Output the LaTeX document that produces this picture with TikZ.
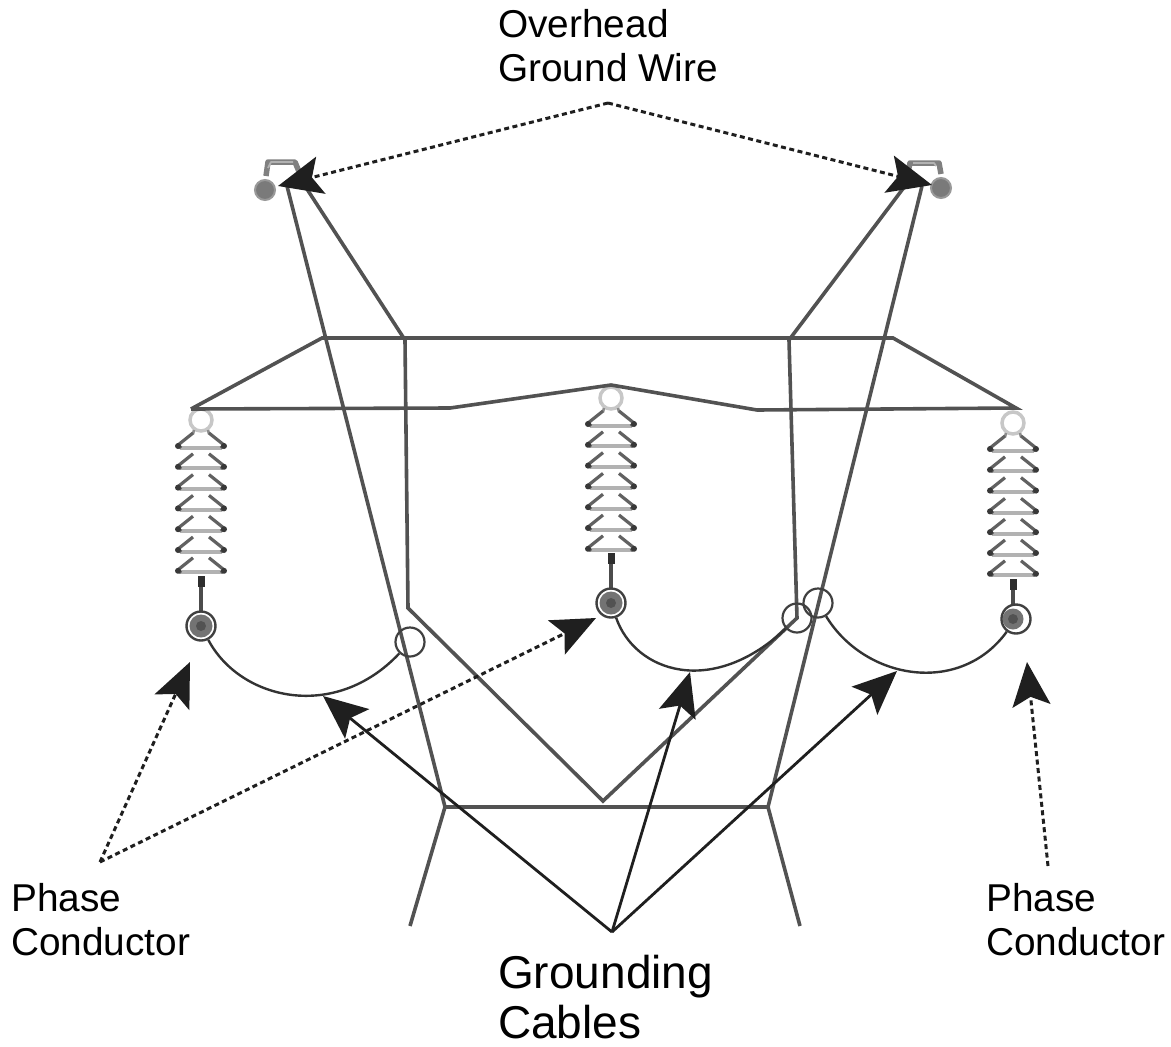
\documentclass[tikz,border=0pt]{standalone}
\usepackage{fontspec}
\setmainfont{Liberation Sans}
\usetikzlibrary{arrows.meta}
\tikzset{
 tower/.style={draw=black!68,line width=3.6pt,line join=miter},
 cable/.style={draw=black!80,line width=2.4pt},
 ring/.style={circle,draw=black!75,line width=2.2pt,minimum size=29pt,inner sep=0pt},
 phase/.style={circle,draw=black!75,fill=white,line width=2.4pt,minimum size=29pt,inner sep=0pt},
 wirenode/.style={circle,fill=black!52,draw=black!40,line width=2pt,minimum size=20pt,inner sep=0pt},
 bracketline/.style={draw=black!50,line width=5.5pt,line join=round},
 bracketcore/.style={draw=white!70!black,line width=1.8pt,line join=round},
 solidarrow/.style={draw=black!88,line width=2.8pt,-{Stealth[length=44pt,width=38pt,inset=9pt]}},
 dotarrow/.style={draw=black!88,line width=3pt,dash pattern=on 5pt off 3.5pt,-{Stealth[length=44pt,width=38pt,inset=9pt]}},
 lab/.style={align=left,anchor=north west,inner sep=0pt,font=\fontsize{38.8}{44}\selectfont},
 biglab/.style={align=left,anchor=north west,inner sep=0pt,font=\fontsize{46}{50}\selectfont},
}
\newcommand{\insul}[2]{%
 \begin{scope}[shift={(#1,#2)}]
  \draw[black!22,line width=3.5pt,fill=white] (0,-27) circle (11);
  \draw[black!45,line width=2.6pt] (-7,-17) -- (-8,-13) (7,-17) -- (8,-13);
  \foreach \k in {0,...,6}{
   \draw[black!30,line width=4pt] (-21,{\k*20.8+0.5}) -- (21,{\k*20.8+0.5});
   \draw[black!62,line width=3.2pt,line join=round] (-8,{\k*20.8-14}) -- (-23,{\k*20.8-2}) -- (-20,{\k*20.8+1});
   \draw[black!62,line width=3.2pt,line join=round] (8,{\k*20.8-14}) -- (23,{\k*20.8-2}) -- (20,{\k*20.8+1});
   \fill[black!78] (-23,{\k*20.8-1}) circle (3) (23,{\k*20.8-1}) circle (3);
  }
 \end{scope}}
\begin{document}
\begin{tikzpicture}[x=1pt,y=-1pt]
\useasboundingbox (0,0) rectangle (1171,1047);
\coordinate (tl) at (322,338); \coordinate (tr) at (893,338);
\coordinate (al) at (191,409); \coordinate (ar) at (1016,408);
\coordinate (cl) at (450,408); \coordinate (cm) at (611,385); \coordinate (cr) at (757,410);
\coordinate (wl) at (405,340); \coordinate (wr) at (789,340);
\coordinate (kl) at (408,608); \coordinate (kr) at (797,618);
\coordinate (vb) at (603,801);
\coordinate (bl) at (445,807); \coordinate (br) at (768,807);
\coordinate (fl) at (410,926); \coordinate (fr) at (800,926);
\coordinate (ol1) at (287,186); \coordinate (ol2) at (305,186);
\coordinate (or1) at (905,186); \coordinate (or2) at (922,186);
\insul{201}{447}
\insul{611}{425}
\insul{1013}{450}
\draw[black!70,line width=3.2pt] (201,577) -- (201,612);
\draw[black!70,line width=3.2pt] (611,554) -- (611,590);
\draw[black!70,line width=3.2pt] (1013,580) -- (1013,606);
\draw[black!82,line width=7pt] (201,576) -- (201,587);
\draw[black!82,line width=7pt] (611,553) -- (611,564);
\draw[black!82,line width=7pt] (1013,579) -- (1013,590);
\draw[tower] (al) -- (tl) -- (tr) -- (ar) -- (cr) -- (cm) -- (cl) -- (al);
\draw[tower] (ol1) -- (bl) -- (fl);
\draw[tower] (ol2) -- (wl) -- (kl) -- (vb) -- (kr) -- (wr) -- (or1);
\draw[tower] (or2) -- (br) -- (fr);
\draw[tower] (bl) -- (br);
\node[phase] (pl) at (201,626) {};
\node[phase] (pm) at (611,603) {};
\node[phase] (pr) at (1016,619) {};
\fill[black!55] (pl.center) circle (11.5); \fill[black!68] (pl.center) circle (5);
\fill[black!55] (pm.center) circle (11.5); \fill[black!68] (pm.center) circle (5);
\fill[black!55] ([xshift=-3pt]pr.center) circle (10.5); \fill[black!68] ([xshift=-3pt]pr.center) circle (5);
\node[ring] (rl) at (410,642) {};
\node[ring] (rm) at (797,618) {};
\node[ring] (rr) at (818,603) {};
\draw[cable] (pl) .. controls (240,700) and (335,722) .. (rl);
\draw[cable] (pm) .. controls (635,672) and (712,698) .. (rm);
\draw[cable] (rr) .. controls (865,680) and (960,696) .. (pr);
\node[wirenode] (wa) at (265,190) {};
\node[wirenode] (wb) at (941,188) {};
\draw[bracketline] (266,176) -- (268,162) -- (295,162) -- (ol2);
\draw[bracketcore] (268,168) -- (271,162) -- (293,162);
\draw[bracketline] (941,174) -- (939,163) -- (910,163) -- (or1);
\draw[bracketcore] (936,166) -- (934,163) -- (913,163);
\node[lab] (ogw) at (498,9) {Overhead\\Ground Wire};
\node[lab] (pcl) at (11,883) {Phase\\Conductor};
\node[lab] (pcr) at (986,883) {Phase\\Conductor};
\node[biglab] (gc) at (498,955) {Grounding\\Cables};
\coordinate (ga) at (612,932);
\coordinate (da) at (608,103);
\coordinate (dl) at (100,862);
\coordinate (dr) at (1048,866);
\coordinate (g1) at (323,696); \coordinate (g2) at (690,672); \coordinate (g3) at (897,671);
\coordinate (d1) at (278,186); \coordinate (d2) at (932,185);
\coordinate (d3) at (190,662); \coordinate (d4) at (596,618); \coordinate (d5) at (1027,662);
\draw[solidarrow] (ga) -- (g1);
\draw[solidarrow] (ga) -- (g2);
\draw[solidarrow] (ga) -- (g3);
\draw[dotarrow] (da) -- (d1);
\draw[dotarrow] (da) -- (d2);
\draw[dotarrow] (dl) -- (d3);
\draw[dotarrow] (dl) -- (d4);
\draw[dotarrow] (dr) -- (d5);
\end{tikzpicture}
\end{document}
